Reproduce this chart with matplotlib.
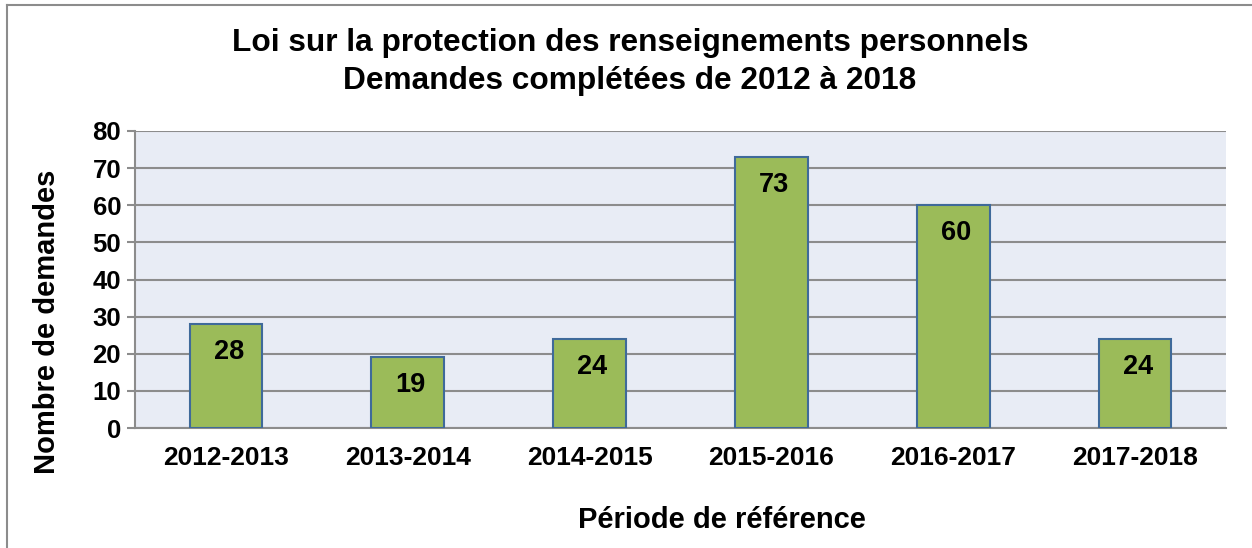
import matplotlib
matplotlib.use("Agg")
import matplotlib.pyplot as plt
from matplotlib.lines import Line2D

categories = ["2012-2013", "2013-2014", "2014-2015", "2015-2016", "2016-2017", "2017-2018"]
values = [28, 19, 24, 73, 60, 24]
yticks = [0, 10, 20, 30, 40, 50, 60, 70, 80]

plt.rcParams['font.family'] = ['Liberation Sans', 'DejaVu Sans']
plt.rcParams['font.weight'] = 'bold'

W, H = 1252, 548
fig = plt.figure(figsize=(W/100, H/100), dpi=100)
ax = fig.add_axes([135/W, 1-428/H, 1091/W, (428-131)/H])
ax.set_facecolor('#E8ECF5')
ax.set_axisbelow(True)
ax.yaxis.grid(True, color='#8C8C8C', linewidth=1.5)

x = list(range(len(categories)))
bars = ax.bar(x, values, width=0.4, color='#9BBB59', edgecolor='#3F6A9A', linewidth=1.5, zorder=3)
for b, v in zip(bars, values):
    ax.annotate(str(v), xy=(b.get_x() + b.get_width()/2, v), xytext=(2, -20),
                textcoords='offset points', ha='center', va='center',
                fontsize=19.5, fontweight='bold', zorder=4)

ax.set_xlim(-0.5, len(categories) - 0.5)
ax.set_ylim(0, 80)
ax.set_yticks(yticks)
ax.set_xticks(x)
ax.set_xticklabels(categories, fontsize=19, fontweight='bold')
ax.tick_params(axis='x', length=0, pad=13)
ax.tick_params(axis='y', length=6, width=1.5, color='#8C8C8C', labelsize=18.5, pad=4)
for lab in ax.get_yticklabels():
    lab.set_fontweight('bold')
for s in ['top', 'right']:
    ax.spines[s].set_visible(False)
for s in ['left', 'bottom']:
    ax.spines[s].set_color('#8C8C8C')
    ax.spines[s].set_linewidth(1.5)

ax.set_ylabel("Nombre de demandes", fontsize=21, fontweight='bold')
ax.yaxis.set_label_coords((61-135)/1091, (428-322)/297)
fig.text(722/W, 1-520/H, "Période de référence", ha='center', va='center',
         fontsize=21, fontweight='bold')
fig.text(630/W, 1-62/H, "Loi sur la protection des renseignements personnels\nDemandes complétées de 2012 à 2018",
         ha='center', va='center', fontsize=22.8, fontweight='bold', linespacing=1.32)

# outer frame (only top and left visible)
fig.add_artist(Line2D([7/W, 7/W], [0, 1-5/H], transform=fig.transFigure, color='#8C8C8C', linewidth=1.5))
fig.add_artist(Line2D([7/W, 1], [1-5/H, 1-5/H], transform=fig.transFigure, color='#8C8C8C', linewidth=1.5))

fig.savefig("out.png", dpi=100)
